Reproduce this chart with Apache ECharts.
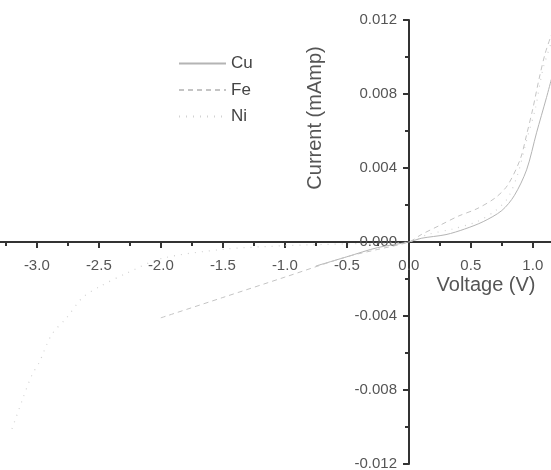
<!DOCTYPE html>
<html>
<head>
	<meta charset="utf-8">
	<script src="https://cdn.jsdelivr.net/npm/echarts@6/dist/echarts.min.js"></script>
	<style>
		html, body { margin: 0; padding: 0; background: #fff; }
		#chart { width: 551px; height: 470px; }
	</style>
</head>
<body>
	<div id="chart"></div>
	<script>
		// 图例名称
		var seriesNames = ['Cu', 'Fe', 'Ni'];
		// 坐标轴刻度
		var xTicks = [-3.5, 1.5, 0.5]; // min, max, interval
		var yTicks = [-0.012, 0.012, 0.004];
		var axisNames = ['Voltage (V)', 'Current (mAmp)'];

		// 数据 [电压, 电流]
		var cuData = [
			[-0.75, -0.0013], [-0.5, -0.0008], [-0.25, -0.0003], [0, 0],
			[0.1, 0.0002], [0.3, 0.0004], [0.45, 0.0007], [0.6, 0.0011],
			[0.75, 0.0017], [0.85, 0.0025], [0.95, 0.0039], [1.03, 0.0059],
			[1.11, 0.0078], [1.15, 0.0088]
		];
		var feData = [
			[-2.0, -0.0041], [-1.5, -0.0030], [-1.0, -0.0019], [-0.5, -0.0008],
			[-0.25, -0.0004], [0, 0], [0.1, 0.0004], [0.25, 0.0009],
			[0.4, 0.0014], [0.55, 0.0018], [0.7, 0.0024], [0.8, 0.0031],
			[0.9, 0.0045], [0.95, 0.0058], [1.0, 0.0072], [1.05, 0.0088],
			[1.1, 0.0102], [1.15, 0.0112]
		];
		var niData = [
			[-3.2, -0.0101], [-3.12, -0.0086], [-3.04, -0.0072], [-2.98, -0.0065],
			[-2.88, -0.0050], [-2.76, -0.0041], [-2.63, -0.0030], [-2.49, -0.0024],
			[-2.28, -0.0017], [-2.0, -0.0009], [-1.5, -0.0004], [-1.0, -0.0002],
			[-0.5, -0.0001], [0, 0], [0.15, 0.0004], [0.35, 0.0007],
			[0.55, 0.0011], [0.7, 0.0017], [0.8, 0.0024], [0.88, 0.0037],
			[0.95, 0.0055], [1.02, 0.0072], [1.08, 0.0093], [1.15, 0.0108]
		];

		var font = '"Liberation Sans", Arial, sans-serif';
		var axisColor = '#333';
		var textColor = '#555';

		// 网格: 0 点位于 (409, 242)
		var gridLeft = 12 - 0.3 * 124;
		var gridTop = 20;
		var gridWidth = 5 * 124;
		var gridHeight = 444;

		var myChart = echarts.init(document.getElementById('chart'));

		// 坐标轴公共样式
		function makeAxis(ticks, digits, margin) {
			return {
				type: 'value',
				min: ticks[0],
				max: ticks[1],
				interval: ticks[2],
				axisLine: { onZero: false, lineStyle: { color: axisColor, width: 2 } },
				axisTick: { length: 6, lineStyle: { color: axisColor, width: 2 } },
				minorTick: { show: true, splitNumber: 2, length: 4, lineStyle: { color: axisColor, width: 2 } },
				splitLine: { show: false },
				axisLabel: {
					color: textColor,
					fontFamily: font,
					fontSize: 15,
					margin: margin,
					formatter: function(v) { return v.toFixed(digits); }
				}
			};
		}

		var xAxis = makeAxis(xTicks, 1, 16);
		xAxis.position = 'bottom';
		xAxis.offset = -(gridHeight / 2); // 移到 y=0 处
		xAxis.axisLabel.showMinLabel = false;
		xAxis.axisLabel.showMaxLabel = false;

		var yAxis = makeAxis(yTicks, 3, 12);
		yAxis.position = 'left';
		yAxis.offset = -(409 - gridLeft); // 移到 x=0 处

		var option = {
			animation: false,
			backgroundColor: '#fff',
			grid: {
				left: gridLeft,
				top: gridTop,
				width: gridWidth,
				height: gridHeight,
				outerBoundsMode: 'none',
				containLabel: false
			},
			legend: {
				orient: 'vertical',
				left: 173,
				top: 50,
				itemWidth: 47,
				itemHeight: 16,
				itemGap: 9.5,
				itemStyle: { opacity: 0 },
				textStyle: { color: '#444', fontFamily: font, fontSize: 17 },
				data: seriesNames
			},
			xAxis: xAxis,
			yAxis: yAxis,
			graphic: [
				{
					type: 'text',
					x: 486,
					y: 285,
					style: {
						text: axisNames[0], fill: textColor, font: '20px ' + font,
						align: 'center', verticalAlign: 'middle'
					}
				},
				{
					type: 'text',
					x: 315,
					y: 118,
					rotation: Math.PI / 2,
					style: {
						text: axisNames[1], fill: textColor, font: '20px ' + font,
						align: 'center', verticalAlign: 'middle'
					}
				}
			],
			series: [
				{
					name: seriesNames[0], type: 'line', symbol: 'none', smooth: 0.3,
					lineStyle: { color: '#b4b4b4', width: 1 },
					itemStyle: { color: '#b4b4b4' },
					data: cuData
				},
				{
					name: seriesNames[1], type: 'line', symbol: 'none', smooth: 0.3,
					lineStyle: { color: '#c4c4c4', width: 1, type: [5, 4] },
					itemStyle: { color: '#c4c4c4' },
					data: feData
				},
				{
					name: seriesNames[2], type: 'line', symbol: 'none', smooth: 0.3,
					lineStyle: { color: '#d2d2d2', width: 1.2, type: [1, 6] },
					itemStyle: { color: '#d2d2d2' },
					data: niData
				}
			]
		};

		myChart.setOption(option);
	</script>
</body>
</html>
